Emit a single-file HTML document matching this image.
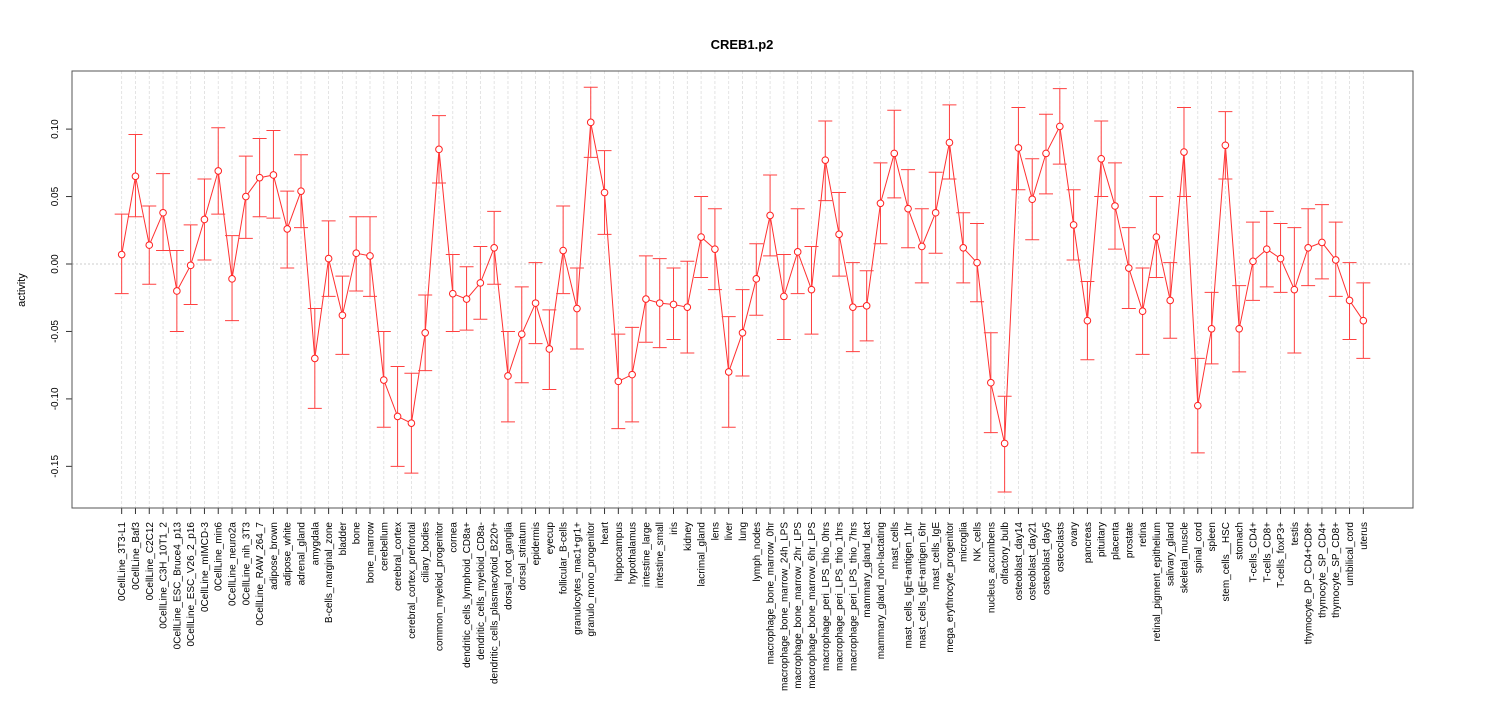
<!DOCTYPE html>
<html><head><meta charset="utf-8"><style>
body{margin:0;background:#fff;font-family:"Liberation Sans",sans-serif}
svg text{font-family:"Liberation Sans",sans-serif}
</style></head><body>
<svg id="chart" width="1485" height="720" xmlns="http://www.w3.org/2000/svg">
<rect width="1485" height="720" fill="#fff"/>
<text x="742" y="49" text-anchor="middle" font-size="13" font-weight="bold">CREB1.p2</text>
<text transform="translate(25,290) rotate(-90)" text-anchor="middle" font-size="11">activity</text>
<g id="grid"></g><g id="marks"></g><g id="axes"></g>
<rect x="72" y="71" width="1341" height="437" fill="none" stroke="#555" stroke-width="1"/>
</svg>
<script>
const categories=["0CellLine_3T3-L1","0CellLine_Baf3","0CellLine_C2C12","0CellLine_C3H_10T1_2","0CellLine_ESC_Bruce4_p13","0CellLine_ESC_V26_2_p16","0CellLine_mIMCD-3","0CellLine_min6","0CellLine_neuro2a","0CellLine_nih_3T3","0CellLine_RAW_264_7","adipose_brown","adipose_white","adrenal_gland","amygdala","B-cells_marginal_zone","bladder","bone","bone_marrow","cerebellum","cerebral_cortex","cerebral_cortex_prefrontal","ciliary_bodies","common_myeloid_progenitor","cornea","dendritic_cells_lymphoid_CD8a+","dendritic_cells_myeloid_CD8a-","dendritic_cells_plasmacytoid_B220+","dorsal_root_ganglia","dorsal_striatum","epidermis","eyecup","follicular_B-cells","granulocytes_mac1+gr1+","granulo_mono_progenitor","heart","hippocampus","hypothalamus","intestine_large","intestine_small","iris","kidney","lacrimal_gland","lens","liver","lung","lymph_nodes","macrophage_bone_marrow_0hr","macrophage_bone_marrow_24h_LPS","macrophage_bone_marrow_2hr_LPS","macrophage_bone_marrow_6hr_LPS","macrophage_peri_LPS_thio_0hrs","macrophage_peri_LPS_thio_1hrs","macrophage_peri_LPS_thio_7hrs","mammary_gland_lact","mammary_gland_non-lactating","mast_cells","mast_cells_IgE+antigen_1hr","mast_cells_IgE+antigen_6hr","mast_cells_IgE","mega_erythrocyte_progenitor","microglia","NK_cells","nucleus_accumbens","olfactory_bulb","osteoblast_day14","osteoblast_day21","osteoblast_day5","osteoclasts","ovary","pancreas","pituitary","placenta","prostate","retina","retinal_pigment_epithelium","salivary_gland","skeletal_muscle","spinal_cord","spleen","stem_cells__HSC","stomach","T-cells_CD4+","T-cells_CD8+","T-cells_foxP3+","testis","thymocyte_DP_CD4+CD8+","thymocyte_SP_CD4+","thymocyte_SP_CD8+","umbilical_cord","uterus"];
const values=[0.007,0.065,0.014,0.038,-0.020,-0.001,0.033,0.069,-0.011,0.050,0.064,0.066,0.026,0.054,-0.070,0.004,-0.038,0.008,0.006,-0.086,-0.113,-0.118,-0.051,0.085,-0.022,-0.026,-0.014,0.012,-0.083,-0.052,-0.029,-0.063,0.010,-0.033,0.105,0.053,-0.087,-0.082,-0.026,-0.029,-0.030,-0.032,0.020,0.011,-0.080,-0.051,-0.011,0.036,-0.024,0.009,-0.019,0.077,0.022,-0.032,-0.031,0.045,0.082,0.041,0.013,0.038,0.090,0.012,0.001,-0.088,-0.133,0.086,0.048,0.082,0.102,0.029,-0.042,0.078,0.043,-0.003,-0.035,0.020,-0.027,0.083,-0.105,-0.048,0.088,-0.048,0.002,0.011,0.004,-0.019,0.012,0.016,0.003,-0.027,-0.042];
const upper=[0.037,0.096,0.043,0.067,0.010,0.029,0.063,0.101,0.021,0.080,0.093,0.099,0.054,0.081,-0.033,0.032,-0.009,0.035,0.035,-0.050,-0.076,-0.081,-0.023,0.110,0.007,-0.002,0.013,0.039,-0.050,-0.017,0.001,-0.034,0.043,-0.003,0.131,0.084,-0.052,-0.047,0.006,0.004,-0.003,0.002,0.050,0.041,-0.039,-0.019,0.015,0.066,0.007,0.041,0.013,0.106,0.053,0.001,-0.005,0.075,0.114,0.070,0.041,0.068,0.118,0.038,0.030,-0.051,-0.098,0.116,0.078,0.111,0.130,0.055,-0.013,0.106,0.075,0.027,-0.003,0.050,0.001,0.116,-0.070,-0.021,0.113,-0.016,0.031,0.039,0.030,0.027,0.041,0.044,0.031,0.001,-0.014];
const lower=[-0.022,0.035,-0.015,0.010,-0.050,-0.030,0.003,0.037,-0.042,0.019,0.035,0.034,-0.003,0.027,-0.107,-0.024,-0.067,-0.020,-0.024,-0.121,-0.150,-0.155,-0.079,0.060,-0.050,-0.049,-0.041,-0.015,-0.117,-0.088,-0.059,-0.093,-0.022,-0.063,0.079,0.022,-0.122,-0.117,-0.058,-0.062,-0.056,-0.066,-0.010,-0.019,-0.121,-0.083,-0.038,0.006,-0.056,-0.022,-0.052,0.047,-0.009,-0.065,-0.057,0.015,0.049,0.012,-0.014,0.008,0.063,-0.014,-0.028,-0.125,-0.169,0.055,0.018,0.052,0.074,0.003,-0.071,0.050,0.011,-0.033,-0.067,-0.010,-0.055,0.050,-0.140,-0.074,0.063,-0.080,-0.027,-0.017,-0.021,-0.066,-0.016,-0.011,-0.024,-0.056,-0.070];
const yTicks=[-0.15,-0.10,-0.05,0.00,0.05,0.10];
const yTickLabels=["-0.15","-0.10","-0.05","0.00","0.05","0.10"];
const NS="http://www.w3.org/2000/svg";
const n=categories.length;
const L=72,R=1413,T=71,B=508;
const unit=(R-L)/((n-1)*1.08);
function xs(i){return L+unit*((n-1)*0.04+i);}
function ys(v){return 264-v*1349;}
function mk(tag,attrs,parent){const e=document.createElementNS(NS,tag);for(const k in attrs)e.setAttribute(k,attrs[k]);parent.appendChild(e);return e;}
const grid=document.getElementById('grid'),marks=document.getElementById('marks'),axes=document.getElementById('axes');
for(let i=0;i<n;i++){
  const g=mk('line',{x1:xs(i),x2:xs(i),y1:T,y2:B,stroke:'#ddd','stroke-dasharray':'3,2','stroke-width':0.8},grid);
  
  
}
const z=mk('line',{x1:L,x2:R,y1:ys(0),y2:ys(0),stroke:'#ccc','stroke-dasharray':'2,2'},grid);


const pts=values.map((v,i)=>xs(i).toFixed(1)+','+ys(v).toFixed(1)).join(' ');
const pl=mk('polyline',{points:pts,fill:'none',stroke:'#ff3030','stroke-width':1},marks);


for(let i=0;i<n;i++){
  const x=xs(i);
  const eb=mk('path',{d:`M${x},${ys(upper[i])}V${ys(lower[i])}M${x-7},${ys(upper[i])}H${x+7}M${x-7},${ys(lower[i])}H${x+7}`,stroke:'#ff4040','stroke-width':1,fill:'none'},marks);
  
  
  const c=mk('circle',{cx:x,cy:ys(values[i]),r:3.3,fill:'#fff',stroke:'#ff2020','stroke-width':1},marks);
  
  
  mk('line',{x1:x,x2:x,y1:B,y2:B+6,stroke:'#333'},axes);
  const t=mk('text',{transform:`translate(${x+3.5},${B+14}) rotate(-90)`,'text-anchor':'end','font-size':10},axes);
  t.textContent=categories[i];
  
  
}
yTicks.forEach((v,k)=>{
  const y=ys(v);
  mk('line',{x1:L-6,x2:L,y1:y,y2:y,stroke:'#333'},axes);
  const t=mk('text',{transform:`translate(${L-14},${y}) rotate(-90)`,'text-anchor':'middle','font-size':10},axes);
  t.textContent=yTickLabels[k];
  
  
});
</script>
</body></html>
